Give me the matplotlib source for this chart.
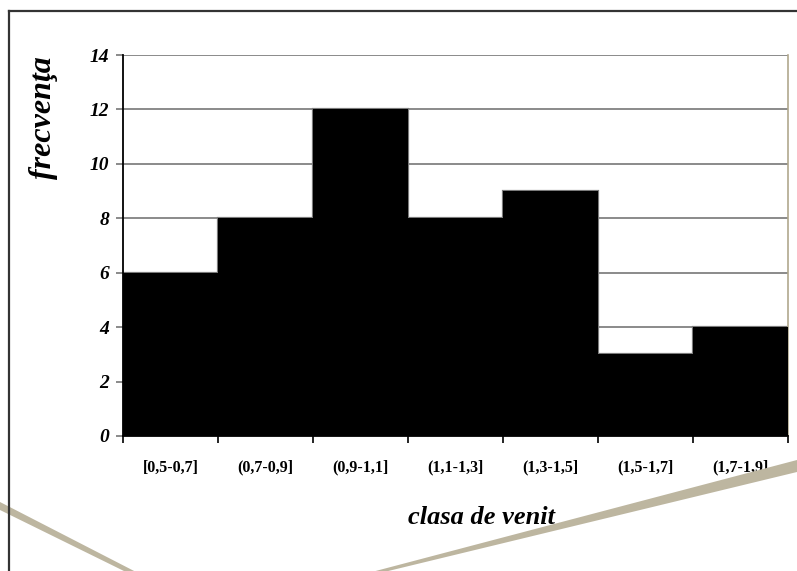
"""Histogram of income classes (frecventa vs clasa de venit)."""

import matplotlib
matplotlib.use("Agg")
import matplotlib.pyplot as plt
from matplotlib.lines import Line2D
from matplotlib.patches import Polygon

classes = ["[0,5-0,7]", "(0,7-0,9]", "(0,9-1,1]", "(1,1-1,3]",
           "(1,3-1,5]", "(1,5-1,7]", "(1,7-1,9]"]
counts = [6, 8, 12, 8, 9, 3, 4]
y_ticks = [0, 2, 4, 6, 8, 10, 12, 14]

W, H = 797, 571
fig = plt.figure(figsize=(W / 100, H / 100), dpi=100)
fig.patch.set_facecolor("white")


def fx(px):
    return px / W


def fy(py):
    return 1 - py / H


# outer frame (left and top edge only visible)
fig.add_artist(Line2D([fx(9), fx(9)], [fy(11), 0], transform=fig.transFigure,
                      color="#333333", lw=1.6))
fig.add_artist(Line2D([fx(9), 1], [fy(11), fy(11)], transform=fig.transFigure,
                      color="#333333", lw=1.6))

# decorative tan strokes at the bottom
tan = "#bdb6a0"
fig.add_artist(Polygon([(fx(0), fy(502)), (fx(0), fy(510)), (fx(128), fy(573)),
                        (fx(138), fy(573))], closed=True, transform=fig.transFigure,
                       facecolor=tan, edgecolor="none"))
fig.add_artist(Polygon([(fx(368), fy(573)), (fx(380), fy(573)), (fx(797), fy(472)),
                        (fx(797), fy(460))], closed=True, transform=fig.transFigure,
                       facecolor=tan, edgecolor="none"))

ax = fig.add_axes([fx(123), fy(436), fx(788) - fx(123), fy(55) - fy(436)])
ax.set_facecolor("white")

# gray outline first, black fill on top so only the outer half of the edge shows
ax.bar(range(len(counts)), counts, width=1.0, align="edge", color="none",
       edgecolor="#7a7a7a", linewidth=1.6, zorder=2)
ax.bar(range(len(counts)), counts, width=1.0, align="edge", color="black",
       linewidth=0, zorder=3)

ax.set_xlim(0, len(counts))
ax.set_ylim(0, 14)
ax.set_yticks(y_ticks)
ax.set_yticklabels([str(v) for v in y_ticks], family="Liberation Serif",
                   fontsize=14, fontweight="bold", style="italic")
ax.yaxis.grid(True, color="#8a8a8a", lw=1.4, zorder=1)

ax.set_xticks(range(len(counts) + 1))
ax.set_xticklabels([])
ax.set_xticks([i + 0.5 for i in range(len(counts))], minor=True)
ax.set_xticklabels(classes, minor=True, family="Liberation Serif", fontsize=11.5,
                   fontweight="bold")
ax.tick_params(axis="x", which="minor", length=0, pad=17)
ax.tick_params(axis="x", which="major", length=5, width=1.2, color="black")
ax.tick_params(axis="y", length=5, width=1.2, color="#777777", pad=5)

for side in ["left", "bottom"]:
    ax.spines[side].set_color("black")
    ax.spines[side].set_linewidth(1.3)
    ax.spines[side].set_zorder(4)
ax.spines["top"].set_visible(False)
ax.spines["right"].set_color("#b0a88e")
ax.spines["right"].set_linewidth(1.2)

fig.text(fx(43), fy(118), "frecvenţa", rotation=90, ha="center", va="center",
         family="Liberation Serif", fontsize=23, fontweight="bold", style="italic")
fig.text(fx(482), fy(517), "clasa de venit", ha="center", va="center",
         family="Liberation Serif", fontsize=19, fontweight="bold", style="italic")

fig.savefig("out.png", dpi=100)
